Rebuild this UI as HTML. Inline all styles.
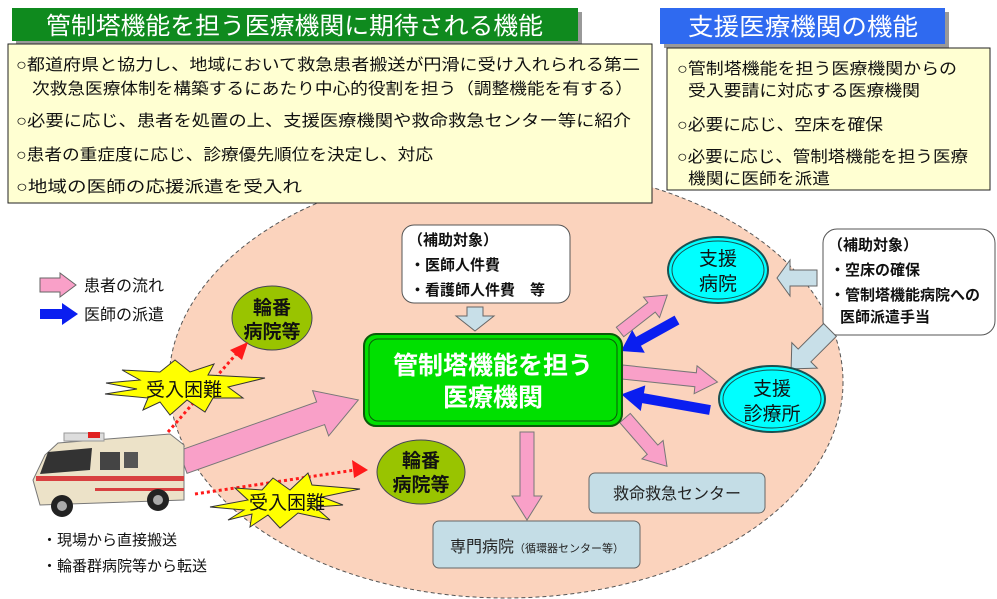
<!DOCTYPE html>
<html><head><meta charset="utf-8"><style>
body{margin:0;background:#fff;}
svg{display:block;font-family:"Liberation Sans","Noto Sans CJK JP",sans-serif;}
</style></head><body>
<svg width="997" height="599" viewBox="0 0 997 599" xmlns="http://www.w3.org/2000/svg">
<!-- big ellipse -->
<ellipse cx="506" cy="382" rx="337" ry="216" fill="#fbd3bd" stroke="#555" stroke-dasharray="4,3"/>

<!-- top-left header -->
<rect x="16" y="12" width="566" height="33" fill="#999"/>
<rect x="12" y="8" width="566" height="33" fill="#0f8a1e"/>
<text x="46" y="34" font-size="24" fill="#fff" textLength="497" lengthAdjust="spacingAndGlyphs">管制塔機能を担う医療機関に期待される機能</text>
<rect x="8" y="44" width="644" height="159" fill="#ffffd2" stroke="#222"/>
<g font-size="16" fill="#111">
<text x="16" y="70" textLength="624" lengthAdjust="spacingAndGlyphs">○都道府県と協力し、地域において救急患者搬送が円滑に受け入れられる第二</text>
<text x="32" y="94" textLength="601" lengthAdjust="spacingAndGlyphs">次救急医療体制を構築するにあたり中心的役割を担う（調整機能を有する）</text>
<text x="16" y="126" textLength="615" lengthAdjust="spacingAndGlyphs">○必要に応じ、患者を処置の上、支援医療機関や救命救急センター等に紹介</text>
<text x="16" y="160" textLength="417" lengthAdjust="spacingAndGlyphs">○患者の重症度に応じ、診療優先順位を決定し、対応</text>
<text x="16" y="192" textLength="286" lengthAdjust="spacingAndGlyphs">○地域の医師の応援派遣を受入れ</text>
</g>

<!-- right header -->
<rect x="664" y="12" width="285" height="36" fill="#999"/>
<rect x="660" y="8" width="285" height="36" fill="#2f6af0"/>
<text x="688" y="35" font-size="24" fill="#fff" textLength="230" lengthAdjust="spacingAndGlyphs">支援医療機関の機能</text>
<rect x="667" y="48" width="323" height="142" fill="#ffffd2" stroke="#222"/>
<g font-size="16" fill="#111">
<text x="677" y="74" textLength="280" lengthAdjust="spacingAndGlyphs">○管制塔機能を担う医療機関からの</text>
<text x="688" y="96" textLength="232" lengthAdjust="spacingAndGlyphs">受入要請に対応する医療機関</text>
<text x="677" y="130" textLength="206" lengthAdjust="spacingAndGlyphs">○必要に応じ、空床を確保</text>
<text x="677" y="162" textLength="291" lengthAdjust="spacingAndGlyphs">○必要に応じ、管制塔機能を担う医療</text>
<text x="688" y="184" textLength="142" lengthAdjust="spacingAndGlyphs">機関に医師を派遣</text>
</g>

<!-- legend -->
<g transform="translate(40,285)" fill="#f9a0c8" stroke="#666"><polygon points="0,-7 20,-7 20,-12 36,0 20,12 20,7 0,7"/></g>
<text x="84" y="291" font-size="16" fill="#111">患者の流れ</text>
<g transform="translate(40,314)" fill="#0a1ef0"><polygon points="0,-5 22,-5 22,-11 38,0 22,11 22,5 0,5"/></g>
<text x="84" y="320" font-size="16" fill="#111">医師の派遣</text>

<!-- subsidy box 1 -->
<rect x="402" y="225" width="168" height="78" rx="12" fill="#fff" stroke="#555"/>
<g font-size="15" fill="#111" font-weight="bold">
<text x="408" y="245">（補助対象）</text>
<text x="410" y="270">・医師人件費</text>
<text x="410" y="295">・看護師人件費　等</text>
</g>
<polygon points="467,307 483,307 483,316 494,316 475,331 456,316 467,316" fill="#c8dfe8" stroke="#666"/>

<!-- subsidy box 2 -->
<rect x="823" y="229" width="172" height="106" rx="14" fill="#fff" stroke="#555"/>
<g font-size="15" fill="#111" font-weight="bold">
<text x="828" y="250">（補助対象）</text>
<text x="830" y="275">・空床の確保</text>
<text x="830" y="300">・管制塔機能病院への</text>
<text x="840" y="322">医師派遣手当</text>
</g>
<polygon points="817,270 817,286 790,286 790,296 777,278 790,260 790,270" fill="#c8dfe8" stroke="#666"/>
<g transform="translate(830,330) rotate(135)"><polygon points="0,-9 36,-9 36,-18 55,0 36,18 36,9 0,9" fill="#c8dfe8" stroke="#666"/></g>

<!-- pink arrows -->
<g fill="#f9a0c8" stroke="#777">
<g transform="translate(183,462) rotate(-19.5)"><polygon points="0,-12 146,-12 146,-24 186,0 146,24 146,12 0,12"/></g>
<g transform="translate(620,332) rotate(-38)"><polygon points="0,-6 40,-6 40,-13 60,0 40,13 40,6 0,6"/></g>
<g transform="translate(622,372) rotate(6)"><polygon points="0,-7 74,-7 74,-14 96,0 74,14 74,7 0,7"/></g>
<g transform="translate(625,418) rotate(49)"><polygon points="0,-7 42,-7 42,-14 64,0 42,14 42,7 0,7"/></g>
<g transform="translate(527,432) rotate(90)"><polygon points="0,-7 64,-7 64,-15 88,0 64,15 64,7 0,7"/></g>
</g>
<g fill="#0a1ef0">
<g transform="translate(677,320) rotate(151)"><polygon points="0,-5 44,-5 44,-13 64,0 44,13 44,5 0,5"/></g>
<g transform="translate(710,410) rotate(190)"><polygon points="0,-5 68,-5 68,-13 90,0 68,13 68,5 0,5"/></g>
</g>

<!-- green main -->
<rect x="364" y="334" width="258" height="92" rx="12" fill="#00e000" stroke="#0a5a0a" stroke-width="2"/>
<rect x="369" y="339" width="248" height="82" rx="9" fill="none" stroke="#0a5a0a"/>
<g font-size="25" font-weight="bold" fill="#fff" text-anchor="middle">
<text x="493" y="374">管制塔機能を担う</text>
<text x="493" y="406">医療機関</text>
</g>

<!-- support ellipses -->
<ellipse cx="718" cy="270" rx="50" ry="33" fill="#00ffff" stroke="#1a5050" stroke-width="2"/>
<ellipse cx="718" cy="270" rx="46" ry="29" fill="none" stroke="#1a5050"/>
<g font-size="19" fill="#111" text-anchor="middle"><text x="718" y="265">支援</text><text x="718" y="290">病院</text></g>
<ellipse cx="772" cy="399" rx="53" ry="33" fill="#00ffff" stroke="#1a5050" stroke-width="2"/>
<ellipse cx="772" cy="399" rx="49" ry="29" fill="none" stroke="#1a5050"/>
<g font-size="19" fill="#111" text-anchor="middle"><text x="772" y="395">支援</text><text x="772" y="420">診療所</text></g>

<!-- rotation hospitals -->
<ellipse cx="272" cy="318" rx="40" ry="32" fill="#99c400" stroke="#445"/>
<g font-size="19" font-weight="bold" fill="#111" text-anchor="middle"><text x="272" y="314">輪番</text><text x="272" y="338">病院等</text></g>
<ellipse cx="421" cy="472" rx="44" ry="32" fill="#99c400" stroke="#445"/>
<g font-size="19" font-weight="bold" fill="#111" text-anchor="middle"><text x="421" y="467">輪番</text><text x="421" y="491">病院等</text></g>

<!-- bottom boxes -->
<rect x="589" y="473" width="176" height="40" rx="6" fill="#c4dde6" stroke="#666"/>
<text x="677" y="499" font-size="16" fill="#222" text-anchor="middle">救命救急センター</text>
<rect x="433" y="521" width="207" height="47" rx="6" fill="#c4dde6" stroke="#666"/>
<text x="450" y="552" font-size="16" fill="#222">専門病院<tspan font-size="11">（循環器センター等）</tspan></text>

<!-- red dotted -->
<g stroke="#ff1a1a" stroke-width="3" stroke-dasharray="3,3" fill="none">
<line x1="168" y1="432" x2="238" y2="352"/>
<line x1="195" y1="494" x2="355" y2="470"/>
</g>
<polygon points="248,342 230,350 242,360" fill="#ff1a1a"/>
<polygon points="368,470 352,460 354,478" fill="#ff1a1a"/>

<!-- starbursts -->
<polygon fill="#ffff00" stroke="#333" points="106,383 140,380 122,370 160,372 175,360 190,372 214,364 208,375 265,378 228,387 243,398 213,398 205,412 187,400 170,415 160,402 143,410 148,398 105,394 137,389"/>
<text x="184" y="396" font-size="19" fill="#111" text-anchor="middle">受入困難</text>
<polygon fill="#ffff00" stroke="#333" points="210,507 248,500 235,488 262,490 273,478 290,490 308,473 312,485 360,489 322,497 343,505 315,507 330,520 298,513 280,528 268,515 250,527 252,514 228,520 244,510"/>
<text x="287" y="509" font-size="19" fill="#111" text-anchor="middle">受入困難</text>

<!-- ambulance -->
<g>
<polygon points="58,443 170,434 184,445 184,500 40,505 33,480 45,455" fill="#ece2c8" stroke="#777"/>
<polygon points="48,452 92,448 90,470 40,474" fill="#333"/>
<rect x="100" y="452" width="20" height="18" fill="#444"/>
<rect x="124" y="452" width="14" height="16" fill="#555"/>
<rect x="64" y="433" width="40" height="8" fill="#ddd" stroke="#999"/>
<rect x="88" y="432" width="12" height="6" fill="#e02020"/>
<rect x="36" y="476" width="148" height="5" fill="#d84040"/>
<rect x="95" y="488" width="89" height="3" fill="#d84040"/>
<circle cx="62" cy="506" r="11" fill="#222"/><circle cx="62" cy="506" r="5" fill="#aaa"/>
<circle cx="158" cy="500" r="11" fill="#222"/><circle cx="158" cy="500" r="5" fill="#aaa"/>
</g>
<g font-size="15" fill="#111">
<text x="42" y="545">・現場から直接搬送</text>
<text x="42" y="571">・輪番群病院等から転送</text>
</g>
</svg>
</body></html>
